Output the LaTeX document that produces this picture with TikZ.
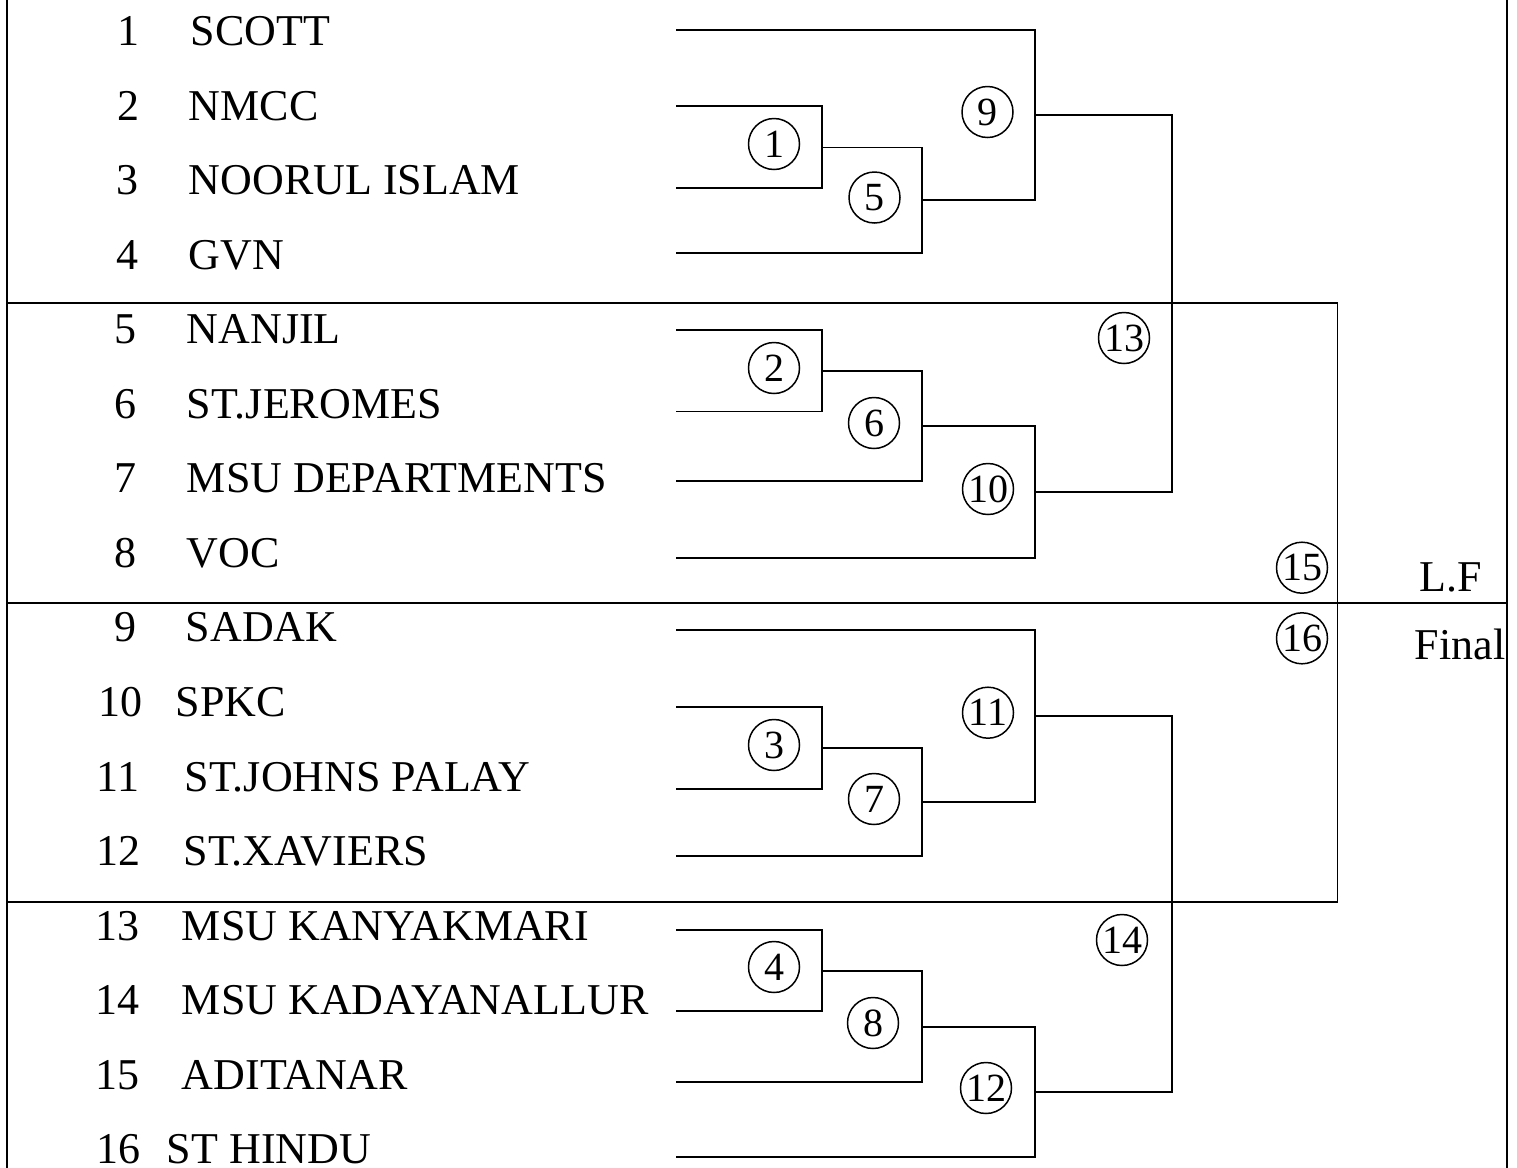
\documentclass[tikz,border=0pt]{standalone}
\usepackage{fontspec}
\setmainfont{Liberation Serif}
\begin{document}
\begin{tikzpicture}[x=0.5pt, y=-0.5pt, line width=0.9pt,
        every node/.style={font=\fontsize{22}{26}\selectfont},
        seed/.style={anchor=base, inner sep=0pt},
        club/.style={anchor=base west, inner sep=0pt},
        game/.style={draw, circle, line width=0.75pt, minimum size=25.5pt, inner sep=0pt, font=\fontsize{20}{24}\selectfont}]
        \useasboundingbox (0,0) rectangle (1517,1168);
        % frame
        \draw (7,0) -- (7,1168);
        \draw (1507,0) -- (1507,1168);
        \coordinate (f1) at (7,302.7);
        \coordinate (f2) at (7,603);
        \coordinate (g2) at (1507,603);
        \coordinate (f3) at (7,902.3);
        % teams
        \foreach \i/\nx/\tname/\cx in {1/128/SCOTT/190, 2/128/NMCC/188, 3/127/NOORUL ISLAM/188, 4/127/GVN/188,
                5/125/NANJIL/186, 6/125/ST.JEROMES/186, 7/125/MSU DEPARTMENTS/186, 8/125/VOC/186,
                9/125/SADAK/185, 10/120/SPKC/175, 11/118/ST.JOHNS PALAY/184, 12/119/ST.XAVIERS/183,
                13/117/MSU KANYAKMARI/181, 14/117/MSU KADAYANALLUR/181, 15/117/ADITANAR/181, 16/118/ST HINDU/166} {
            \node[seed] (n\i) at (\nx, 45.5+74.55*\i-74.55) {\i};
            \node[club] (t\i) at (\cx, 45.5+74.55*\i-74.55) {\tname};
        }
        \foreach \i/\ly in {1/30, 2/105.7, 3/187.7, 4/253.3, 5/330, 6/411.5, 7/480.7, 8/558,
                9/630, 10/707.3, 11/789, 12/856, 13/930, 14/1011, 15/1082, 16/1157}
            \coordinate (s\i) at (676,\ly);
        % match corners
        \coordinate (m1) at (822,147.5);
        \coordinate (m2) at (822,370.7);
        \coordinate (m3) at (822,747.7);
        \coordinate (m4) at (822,970.7);
        \coordinate (m5) at (922,200);
        \coordinate (m6) at (922,426);
        \coordinate (m7) at (922,801.7);
        \coordinate (m8) at (922,1027);
        \coordinate (m9) at (1035,115);
        \coordinate (m10) at (1035,492);
        \coordinate (m11) at (1035,716);
        \coordinate (m12) at (1035,1092);
        \coordinate (m13) at (1172,302.7);
        \coordinate (m14) at (1172,902.3);
        \coordinate (m15) at (1337.5,603);
        % brackets
        \draw (s2) -| (m1) |- (s3);
        \draw (m1) -| (m5) |- (s4);
        \draw (m5) -| (m9) |- (s1);
        \draw (s5) -| (m2) |- (s6);
        \draw (m2) -| (m6) |- (s7);
        \draw (m6) -| (m10) |- (s8);
        \draw (m9) -| (m13) |- (m10);
        \draw (s10) -| (m3) |- (s11);
        \draw (m3) -| (m7) |- (s12);
        \draw (m7) -| (m11) |- (s9);
        \draw (s13) -| (m4) |- (s14);
        \draw (m4) -| (m8) |- (s15);
        \draw (m8) -| (m12) |- (s16);
        \draw (m11) -| (m14) |- (m12);
        \draw (m13) -| (m15) |- (m14);
        \draw (f1) -- (m13);
        \draw (f2) -- (g2);
        \draw (f3) -- (m14);
        % match numbers
        \foreach \k/\gx/\gy in {1/774/144, 2/774/368, 3/774/745, 4/774/967,
                5/874.5/197.5, 6/874/423, 7/874/799, 8/873/1023,
                9/987.5/112, 10/988/489, 11/988/712.7, 12/986/1088,
                13/1124/338, 14/1122/940, 15/1302/567.7, 16/1302/638.3}
            \node[game] (c\k) at (\gx,\gy) {\k};
        \node[seed] (lf) at (1451,591.5) {L.F};
        \node[seed] (fin) at (1460,659) {Final};
    \end{tikzpicture}
\end{document}
